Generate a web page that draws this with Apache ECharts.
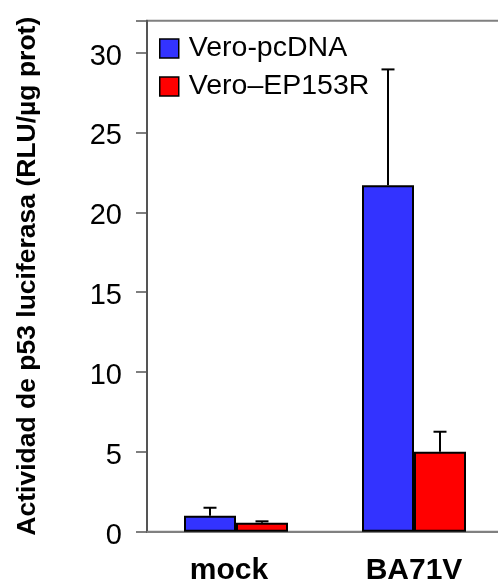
<!DOCTYPE html>
<html>
<head>
<meta charset="utf-8">
<script src="https://cdn.jsdelivr.net/npm/echarts@6/dist/echarts.min.js"></script>
<style>
html,body{margin:0;padding:0;background:#fff;}
#chart{width:498px;height:584px;}
</style>
</head>
<body>
<div id="chart"></div>
<script>
const categories = ['mock', 'BA71V'];
const seriesNames = ['Vero-pcDNA', 'Vero\u2013EP153R'];
const pcdnaValues = [1.0, 21.7];
const pcdnaErrors = [0.5, 7.25];
const ep153rValues = [0.56, 5.0];
const ep153rErrors = [0.09, 1.26];
const yTicks = [0, 5, 10, 15, 20, 25, 30];
const yTitle = 'Actividad de p53 luciferasa (RLU/\u00b5g prot)';

const FONT = '"Liberation Sans", Arial, Helvetica, sans-serif';
const BAR_W = 52;

const chart = echarts.init(document.getElementById('chart'));

function errorSeries(name, values, errors, side) {
  return {
    type: 'custom',
    name: name + ' err',
    z: 1,
    silent: true,
    data: values.map((v, i) => [i, v, v + errors[i]]),
    renderItem: function (params, api) {
      const base = api.coord([api.value(0), api.value(1)]);
      const top = api.coord([api.value(0), api.value(2)]);
      const x = base[0] + side * BAR_W / 2;
      const cap = 6.5;
      return {
        type: 'group',
        children: [
          { type: 'line', shape: { x1: x, y1: base[1], x2: x, y2: top[1] }, style: { stroke: '#000', lineWidth: 2 } },
          { type: 'line', shape: { x1: x - cap, y1: top[1], x2: x + cap, y2: top[1] }, style: { stroke: '#000', lineWidth: 2 } }
        ]
      };
    }
  };
}

const categoryData = categories.map((c, i) => i === 0
  ? { value: c, textStyle: { padding: [0, 14, 0, 0] } }
  : c);

chart.setOption({
  animation: false,
  backgroundColor: '#fff',
  grid: {
    left: 147, top: 20.7, width: 356, bottom: 52.3,
    containLabel: false,
    outerBoundsMode: 'none',
    show: true, borderColor: '#808080', borderWidth: 2, backgroundColor: 'transparent'
  },
  legend: {
    orient: 'vertical',
    left: 154, top: 29,
    itemWidth: 19, itemHeight: 19, itemGap: 9,
    icon: 'rect',
    data: seriesNames,
    textStyle: { fontFamily: FONT, fontSize: 28.5, color: '#000', padding: [0, 0, 0, 5] },
    itemStyle: { borderColor: '#000', borderWidth: 1.5 }
  },
  xAxis: {
    type: 'category',
    data: categoryData,
    axisLine: { show: true, lineStyle: { color: '#808080', width: 2 } },
    axisTick: { show: false },
    axisLabel: { fontFamily: FONT, fontSize: 30, fontWeight: 'bold', color: '#000', margin: 24 },
    splitLine: { show: false }
  },
  yAxis: {
    type: 'value',
    min: 0, max: 32, interval: 5,
    name: yTitle,
    nameLocation: 'middle',
    nameGap: 106,
    nameRotate: 90,
    nameTextStyle: { fontFamily: FONT, fontSize: 26.5, fontWeight: 'bold', color: '#000' },
    axisLine: { show: true, lineStyle: { color: '#555', width: 2 } },
    axisTick: { show: true, length: 11, lineStyle: { color: '#555', width: 1.5 } },
    axisLabel: {
      fontFamily: FONT, fontSize: 29, color: '#000', margin: 25,
      formatter: function (v) { return yTicks.indexOf(v) >= 0 ? '{v|' + v + '}' : ''; },
      rich: { v: { fontFamily: FONT, fontSize: 29, color: '#000', padding: [8, 0, 0, 0] } }
    },
    splitLine: { show: false }
  },
  series: [
    {
      type: 'bar', name: seriesNames[0], data: pcdnaValues,
      barWidth: BAR_W, barGap: '0%', z: 2,
      itemStyle: { color: '#3333FF', borderColor: '#000', borderWidth: 2 }
    },
    {
      type: 'bar', name: seriesNames[1], data: ep153rValues,
      barWidth: BAR_W, barGap: '0%', z: 2,
      itemStyle: { color: '#FF0000', borderColor: '#000', borderWidth: 2 }
    },
    errorSeries(seriesNames[0], pcdnaValues, pcdnaErrors, -1),
    errorSeries(seriesNames[1], ep153rValues, ep153rErrors, 1)
  ]
});
</script>
</body>
</html>
